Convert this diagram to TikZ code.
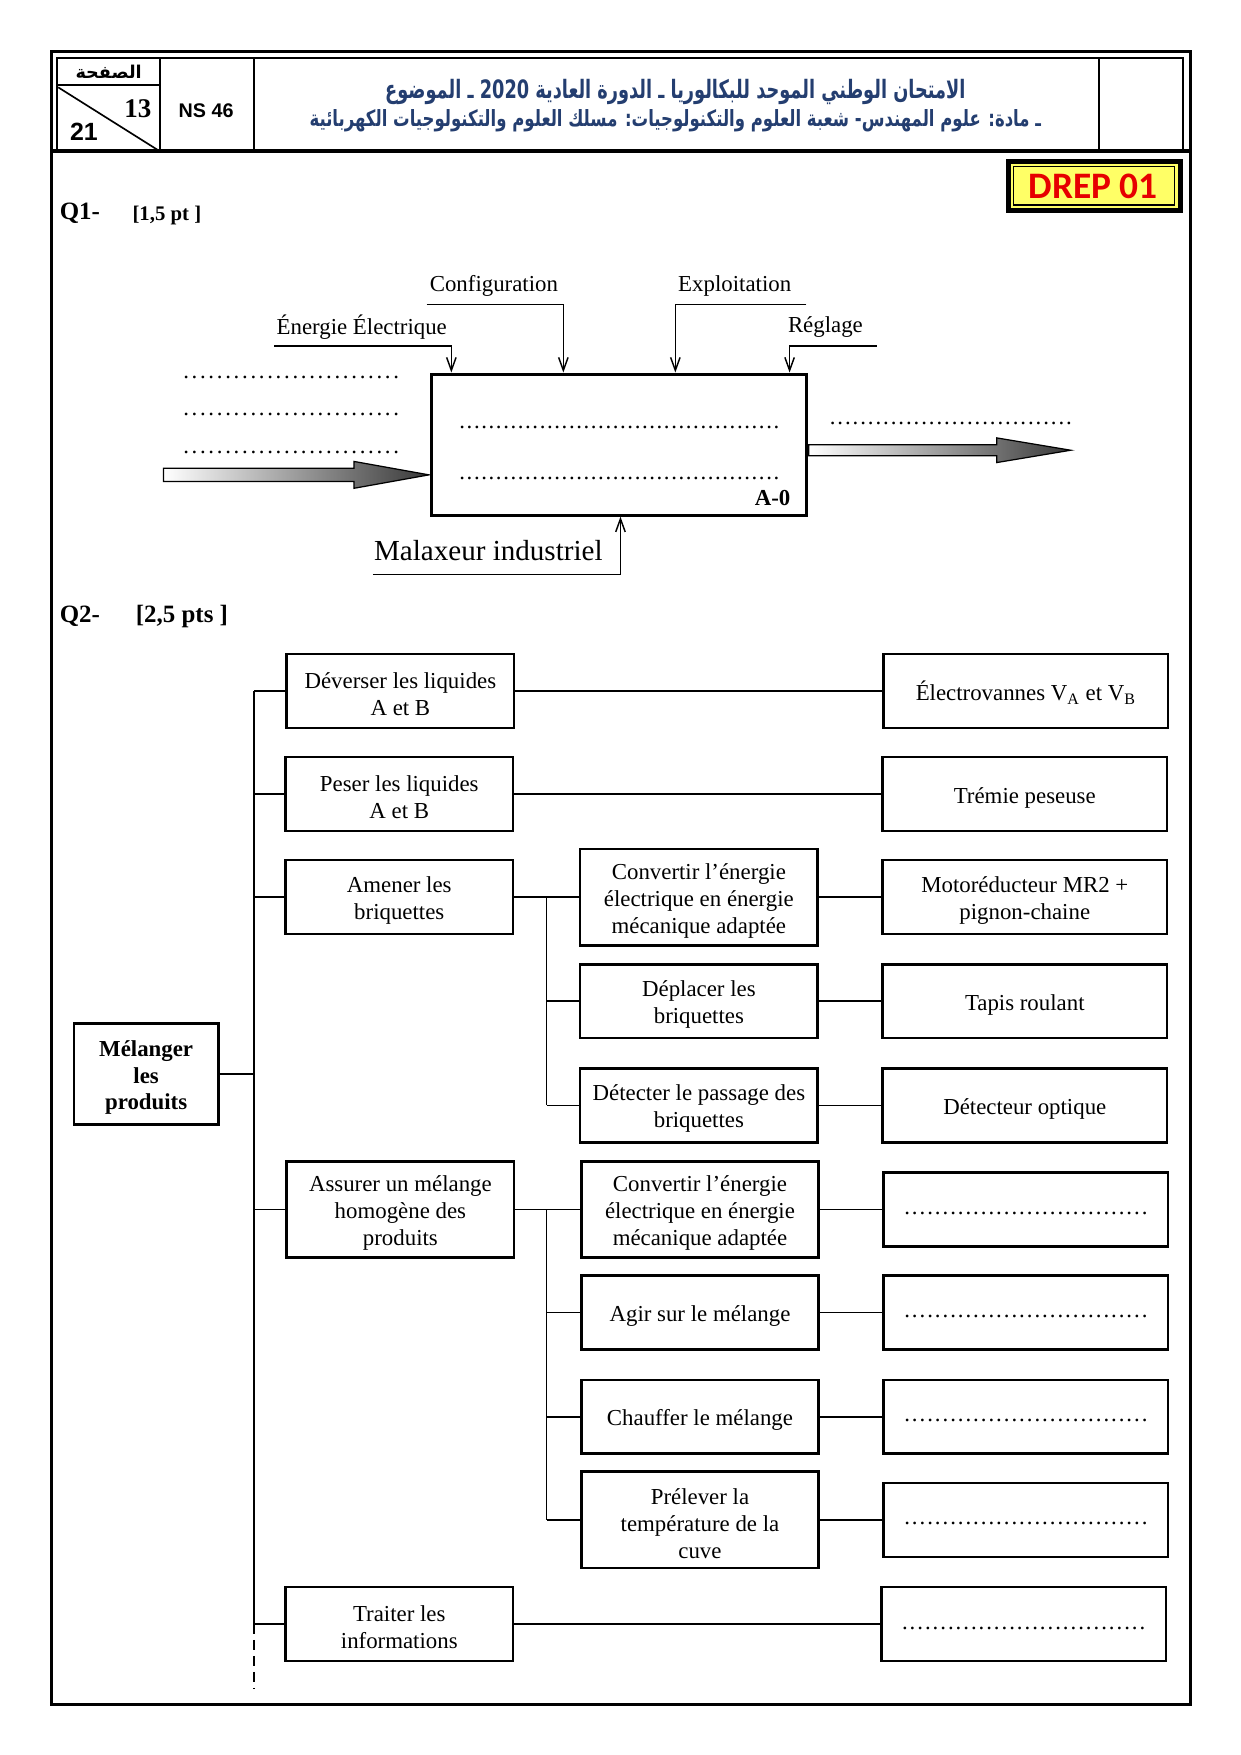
\documentclass[tikz,border=0pt]{standalone}
\usepackage{fontspec}
\usepackage{graphicx}
\setmainfont{Liberation Serif}
\newfontfamily\arialf{Liberation Sans}
\newfontfamily\calf{Carlito}
\newfontfamily\arabicfont[Script=Arabic]{DejaVu Sans}
\TeXXeTstate=1
\usetikzlibrary{arrows.meta}
\definecolor{hblue}{RGB}{36,62,112}
\definecolor{drepred}{RGB}{230,0,0}
\definecolor{drepyel}{RGB}{255,255,102}
\newcommand\dotrow[2]{\hbox to #1{\xleaders\hbox to #2{\hss.\hss}\hfill}}
\newcommand\bx[7][]{\node[box,#1,minimum width={(#5-#3)*0.18953mm},minimum height={(#6-#4)*0.18953mm}] (#2) at ({(#3+#5)/2},{(#4+#6)/2}) {\rule{0pt}{11pt}#7};}
\newcommand\dbx[5]{\node[box,minimum width={(#4-#2)*0.18953mm},minimum height={(#5-#3)*0.18953mm}] (#1) at ({(#2+#4)/2},{(#3+#5)/2}) {\rule{0pt}{5pt}\dotrow{41.5mm}{3.67pt}};}
\begin{document}
\begin{tikzpicture}[x=0.18953mm,y=-0.18953mm,inner sep=0pt,
  font=\fontsize{11}{13}\selectfont,
  box/.style={draw,line width=1.2pt,align=center,inner sep=0pt,font=\fontsize{11}{13}\selectfont},
  link/.style={line width=0.8pt},
  ctrl/.style={line width=0.7pt,-{Straight Barb[length=2.2mm,width=1.6mm]}},
  dots/.style={inner sep=0pt,anchor=base},
  bhead/.style={anchor=base west,font=\bfseries\fontsize{12}{14}\selectfont}]
\useasboundingbox (0,0) rectangle (1108,1567);
% ---------- frame and header ----------
\draw[line width=1.6pt] (46,46) rectangle (1063,1522);
\draw[line width=0.9pt] (51,52) rectangle (1056,135);
\draw[line width=1.8pt] (46,135) -- (1063,135);
\draw[line width=0.9pt] (143,52)--(143,135) (227,52)--(227,135) (981,52)--(981,135);
\draw[line width=1.2pt] (51,76)--(143,76);
\draw[line width=0.8pt] (52,78)--(141,134);
\node[font=\arabicfont\bfseries\fontsize{8.5}{10}\selectfont] (pg) at (97,64) {\beginR الصفحة\endR};
\node[font=\bfseries\fontsize{13}{14}\selectfont] (p13) at (123,97) {13};
\node[font=\arialf\bfseries\fontsize{12}{14}\selectfont] (p21) at (75,118) {21};
\node[font=\arialf\bfseries\fontsize{9.5}{11}\selectfont] (ns) at (184,99) {NS 46};
\node[text=hblue] (ar1) at (603,82) {\resizebox*{98.2mm}{4.3mm}{\arabicfont\bfseries\fontsize{14}{16}\selectfont\beginR الامتحان الوطني الموحد للبكالوريا ـ الدورة العادية \beginL 2020\endL{} ـ الموضوع\endR}};
\node[text=hblue] (ar2) at (603,108) {\resizebox*{123.8mm}{3.8mm}{\arabicfont\bfseries\fontsize{12}{14}\selectfont\beginR ـ مادة: علوم المهندس- شعبة العلوم والتكنولوجيات: مسلك العلوم والتكنولوجيات الكهربائية\endR}};
% DREP
\fill (898,142) rectangle (1056,190);
\fill[drepyel] (902.5,146.5) rectangle (1051.5,185.5);
\draw[line width=0.6pt] (905,149) rectangle (1049,183);
\node[font=\calf\bfseries\fontsize{18}{20}\selectfont,text=drepred] (drep) at (976,166) {DREP 01};
% ---------- Q1 ----------
\node[bhead] (q1) at (53,196) {Q1-};
\node[anchor=base west,font=\bfseries\fontsize{10}{12}\selectfont] (q1p) at (118,197) {[1,5 pt ]};
\node[draw,line width=1.5pt,minimum width={335*0.18953mm},minimum height={126*0.18953mm}] (A0) at (552.5,397) {};
\node[dots] (d1) at (553,383) {\dotrow{54.4mm}{3.5pt}};
\node[dots] (d2) at (553,428) {\dotrow{54.4mm}{3.5pt}};
\node[anchor=base east,font=\bfseries\fontsize{11}{13}\selectfont] (a0) at (706,451) {A-0};
% controls
\node (lE) at (323,292) {Énergie Électrique};
\node (lC) at (441,255) {Configuration};
\node (lX) at (656,255) {Exploitation};
\node (lR) at (737,292) {Réglage};
\coordinate (e0) at (245,309); \coordinate (e1) at (403,309);
\coordinate (c0) at (381,272); \coordinate (c1) at (503,272);
\coordinate (x0) at (720,272); \coordinate (x1) at (603,272);
\coordinate (r0) at (783,309); \coordinate (r1) at (705,309);
\draw[ctrl] (e0) -- (e1) -- (e1 |- A0.north);
\draw[ctrl] (c0) -- (c1) -- (c1 |- A0.north);
\draw[ctrl] (x0) -- (x1) -- (x1 |- A0.north);
\draw[ctrl] (r0) -- (r1) -- (r1 |- A0.north);
% support
\node[font=\fontsize{14}{16}\selectfont] (mal) at (436,492) {Malaxeur industriel};
\coordinate (m0) at (333,513); \coordinate (m1) at (554,513);
\draw[ctrl] (m0) -- (m1) -- (m1 |- A0.south);
% left dots
\node[dots] (l1) at (260,338) {\dotrow{37.0mm}{4pt}};
\node[dots] (l2) at (260,371) {\dotrow{37.0mm}{4pt}};
\node[dots] (l3) at (260,405) {\dotrow{37.0mm}{4pt}};
\node[dots] (o1) at (849,379) {\dotrow{41.3mm}{3.6pt}};
% fat arrows
\shade[left color=white,right color=black!78,draw=black,line width=0.6pt]
  (146,418) -- (316,418) -- (316,412) -- (383,424) -- (316,436) -- (316,430) -- (146,430) -- cycle;
\shade[left color=white,right color=black!78,draw=black,line width=0.6pt]
  (722,397) -- (890,397) -- (890,391) -- (956,402) -- (890,413) -- (890,407) -- (722,407) -- cycle;
% ---------- Q2 ----------
\node[bhead] (q2) at (53,556) {Q2-};
\node[bhead] (q2p) at (121,556) {[2,5 pts ]};
\bx[font=\bfseries\fontsize{11}{12.8}\selectfont]{mel}{66}{914}{195}{1004}{Mélanger\\les\\produits}
% level 1
\bx{L1}{256}{584}{459}{650}{Déverser les liquides\\A et B}
\bx{L2}{255}{676}{458}{742}{Peser les liquides\\A et B}
\bx{L3}{255}{768}{458}{834}{Amener les\\briquettes}
\bx{L4}{256}{1037}{459}{1123}{Assurer un mélange\\homogène des\\produits}
\bx{L5}{255}{1417}{458}{1483}{Traiter les\\informations}
% middle
\bx{M1}{518}{758}{730}{844}{Convertir l’énergie\\électrique en énergie\\mécanique adaptée}
\bx{M2}{518}{861}{730}{927}{Déplacer les\\briquettes}
\bx{M3}{518}{954}{730}{1020}{Détecter le passage des\\briquettes}
\bx{M4}{519}{1037}{731}{1123}{Convertir l’énergie\\électrique en énergie\\mécanique adaptée}
\bx{M5}{519}{1139}{731}{1205}{Agir sur le mélange}
\bx{M6}{519}{1232}{731}{1298}{Chauffer le mélange}
\bx{M7}{519}{1314}{731}{1400}{Prélever la\\température de la\\cuve}
% right
\bx{R1}{789}{584}{1043}{650}{Électrovannes V\textsubscript{A} et V\textsubscript{B}}
\bx{R2}{788}{676}{1042}{742}{Trémie peseuse}
\bx{R3}{788}{768}{1042}{834}{Motoréducteur MR2 +\\pignon-chaine}
\bx{R4}{788}{861}{1042}{927}{Tapis roulant}
\bx{R5}{788}{954}{1042}{1020}{Détecteur optique}
\dbx{R6}{789}{1047}{1043}{1113}
\dbx{R7}{789}{1139}{1043}{1205}
\dbx{R8}{789}{1232}{1043}{1298}
\dbx{R9}{789}{1324}{1043}{1390}
\dbx{R10}{787}{1417}{1041}{1483}
% main trunk
\coordinate (v0) at (227,617); \coordinate (v1) at (227,1450); \coordinate (v2) at (227,1508);
\draw[link] (v0) -- (v1);
\draw[link,dash pattern=on 1.7mm off 1mm] (v1) -- (v2);
\draw[link] (mel.east) -- (mel.east -| v0);
\foreach \n in {L1,L2,L3,L4,L5} \draw[link] (\n.west) -- (\n.west -| v0);
% direct links
\draw[link] (L1.east) -- (L1.east -| R1.west);
\draw[link] (L2.east) -- (L2.east -| R2.west);
\draw[link] (L5.east) -- (L5.east -| R10.west);
% group A
\coordinate (sA) at (488,801);
\draw[link] (L3.east) -- (L3.east -| M1.west);
\draw[link] (sA) -- (sA |- M3.west);
\draw[link] (sA |- M2.west) -- (M2.west);
\draw[link] (sA |- M3.west) -- (M3.west);
% group B
\coordinate (sB) at (488,1080);
\draw[link] (L4.east) -- (L4.east -| M4.west);
\draw[link] (sB) -- (sB |- M7.west);
\draw[link] (sB |- M5.west) -- (M5.west);
\draw[link] (sB |- M6.west) -- (M6.west);
\draw[link] (sB |- M7.west) -- (M7.west);
% middle to right
\draw[link] (M1.east) -- (M1.east -| R3.west);
\draw[link] (M2.east) -- (M2.east -| R4.west);
\draw[link] (M3.east) -- (M3.east -| R5.west);
\draw[link] (M4.east) -- (M4.east -| R6.west);
\draw[link] (M5.east) -- (M5.east -| R7.west);
\draw[link] (M6.east) -- (M6.east -| R8.west);
\draw[link] (M7.east) -- (M7.east -| R9.west);
\end{tikzpicture}
\end{document}
